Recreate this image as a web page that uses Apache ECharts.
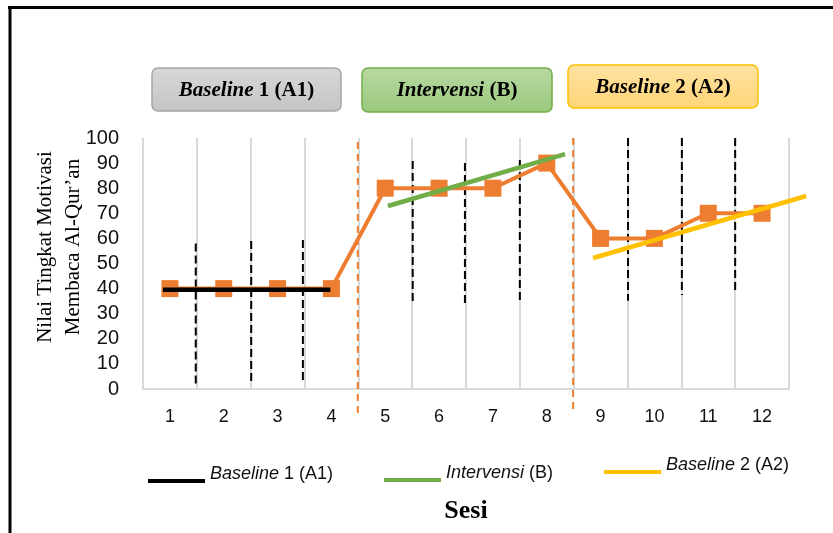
<!DOCTYPE html>
<html>
<head>
<meta charset="utf-8">
<script src="https://cdn.jsdelivr.net/npm/echarts@6/dist/echarts.min.js"></script>
<style>
html,body{margin:0;padding:0;background:#fff;}
#chart{width:833px;height:533px;}
</style>
</head>
<body>
<div id="chart"></div>
<script>
// ---- data ----
const categories = ['1','2','3','4','5','6','7','8','9','10','11','12'];
const scores = [40,40,40,40,80,80,80,90,60,60,70,70];
const yTicks = [0,10,20,30,40,50,60,70,80,90,100];
// trend lines (x in session units, y in score)
const trendA1 = [[0.87,39.5],[3.98,39.5]];
const trendB  = [[5.05,72.9],[8.34,93.6]];
const trendA2 = [[8.86,52.2],[12.82,76.9]];
// phase change lines (orange dashed)
const phaseLines = [
  [[4.49,98.4],[4.49,-9.6]],
  [[8.49,100],[8.49,-8.4]]
];
// range lines (black dashed)
const rangeLines = [
  [[1.48,58.0],[1.48,1.6]],
  [[2.51,59.0],[2.51,2.5]],
  [[3.47,59.4],[3.47,2.9]],
  [[5.51,90.8],[5.51,34.3]],
  [[6.48,90.0],[6.48,33.5]],
  [[7.50,91.2],[7.50,34.7]],
  [[9.51,100],[9.51,35.2]],
  [[10.51,100],[10.51,37.5]],
  [[11.50,100],[11.50,37.8]]
];
const phaseNames = ['Baseline 1 (A1)','Intervensi (B)','Baseline 2 (A2)'];
const yAxisTitle = 'Nilai Tingkat Motivasi\nMembaca Al-Qur\u2019an';
const xAxisTitle = 'Sesi';

// ---- chart ----
const chart = echarts.init(document.getElementById('chart'), null, {renderer:'canvas'});

function richName(name){
  if (name.indexOf('Baseline') === 0) return '{i|Baseline}{n|' + name.slice(8) + '}';
  if (name.indexOf('Intervensi') === 0) return '{i|Intervensi}{n|' + name.slice(10) + '}';
  return name;
}
const serifRich = {
  bi:{fontFamily:'Liberation Serif',fontWeight:'bold',fontStyle:'italic',fontSize:21,color:'#000'},
  b:{fontFamily:'Liberation Serif',fontWeight:'bold',fontSize:21,color:'#000'}
};
function serifName(name){
  if (name.indexOf('Baseline') === 0) return '{bi|Baseline}{b|' + name.slice(8) + '}';
  if (name.indexOf('Intervensi') === 0) return '{bi|Intervensi}{b|' + name.slice(10) + '}';
  return name;
}
const legendRich = {
  i:{fontFamily:'Liberation Sans',fontStyle:'italic',fontSize:18,color:'#111'},
  n:{fontFamily:'Liberation Sans',fontSize:18,color:'#111'}
};
function mkLegend(name, left, top){
  return {
    data:[name], left:left, top:top, icon:'rect', itemWidth:57, itemHeight:4,
    itemGap:0, padding:0, selectedMode:false,
    formatter: richName,
    textStyle:{rich:legendRich, padding:[0,0,14,0]}
  };
}

const boxes = [
  {x:152,y:68,w:189,h:43,c1:'#d8d8d8',c2:'#c4c4c4',stroke:'#a5a5a5'},
  {x:362,y:68,w:190,h:44,c1:'#b8d9a3',c2:'#9bc87c',stroke:'#70ad47'},
  {x:568,y:65,w:190,h:43,c1:'#ffe3a3',c2:'#ffd476',stroke:'#ffc000'}
];
const graphics = [];
boxes.forEach((b,i)=>{
  graphics.push({type:'rect', shape:{x:b.x,y:b.y,width:b.w,height:b.h,r:6},
    style:{fill:new echarts.graphic.LinearGradient(0,0,0,1,[{offset:0,color:b.c1},{offset:1,color:b.c2}]),
      stroke:b.stroke,lineWidth:1.5}, z:10});
  graphics.push({type:'text', x:b.x+b.w/2, y:b.y+b.h/2+1, z:11,
    style:{text:serifName(phaseNames[i]), rich:serifRich, align:'center', verticalAlign:'middle'}});
});
graphics.push({type:'text', x:59, y:247, rotation:Math.PI/2, z:11,
  style:{text:yAxisTitle, fontFamily:'Liberation Serif', fontSize:21, lineHeight:28,
    fill:'#000', align:'center', verticalAlign:'middle'}});
graphics.push({type:'line', shape:{x1:8,y1:7.5,x2:833,y2:7.5}, style:{stroke:'#000',lineWidth:3}, z:20});
graphics.push({type:'line', shape:{x1:10,y1:6,x2:10,y2:533}, style:{stroke:'#000',lineWidth:3}, z:20});

const ov = {xAxisIndex:1, yAxisIndex:1, symbol:'none', clip:false};
const series = [];
rangeLines.forEach(seg=>{
  series.push(Object.assign({type:'line', data:seg, z:1, silent:true,
    lineStyle:{color:'#000',width:2,type:[8,4]}}, ov));
});
phaseLines.forEach(seg=>{
  series.push(Object.assign({type:'line', data:seg, z:1, silent:true,
    lineStyle:{color:'#ED7D31',width:2,type:[7,5]}}, ov));
});
series.push({type:'line', name:'scores', xAxisIndex:0, yAxisIndex:0, data:scores, symbol:'rect', symbolSize:17,
  z:2, itemStyle:{color:'#ED7D31'}, lineStyle:{color:'#ED7D31',width:4}});
series.push(Object.assign({type:'line', name:phaseNames[0], data:trendA1, z:3,
  itemStyle:{color:'#000'}, lineStyle:{color:'#000',width:4.5}}, ov));
series.push(Object.assign({type:'line', name:phaseNames[1], data:trendB, z:3,
  itemStyle:{color:'#70AD47'}, lineStyle:{color:'#70AD47',width:4.5}}, ov));
series.push(Object.assign({type:'line', name:phaseNames[2], data:trendA2, z:3,
  itemStyle:{color:'#FFC000'}, lineStyle:{color:'#FFC000',width:4.5}}, ov));

const plotLeft = 143, plotWidth = 646, plotTop = 138, plotBottom = 144;
const ovMax = 12.9; // overlay axis reaches a bit past the last category
chart.setOption({
  animation:false,
  backgroundColor:'#fff',
  grid:[
    {left:plotLeft,width:plotWidth,top:plotTop,bottom:plotBottom,containLabel:false},
    {left:plotLeft,width:plotWidth*(ovMax-0.5)/12,top:plotTop,bottom:plotBottom,containLabel:false}
  ],
  xAxis:[{
    type:'category', data:categories, boundaryGap:true, gridIndex:0,
    axisLine:{show:true,lineStyle:{color:'#d9d9d9',width:2}},
    axisTick:{show:false},
    splitLine:{show:true,lineStyle:{color:'#d9d9d9',width:2}},
    axisLabel:{fontFamily:'Liberation Sans',fontSize:18,color:'#111',margin:19},
    name:xAxisTitle, nameLocation:'middle', nameGap:109,
    nameTextStyle:{fontFamily:'Liberation Serif',fontWeight:'bold',fontSize:26,color:'#000'}
  },{
    type:'value', min:0.5, max:ovMax, show:false, gridIndex:1
  }],
  yAxis:[{
    type:'value', min:0, max:100, interval:10, gridIndex:0,
    axisLine:{show:false}, axisTick:{show:false}, splitLine:{show:false},
    axisLabel:{fontFamily:'Liberation Sans',fontSize:20,color:'#111',margin:24,
      formatter:v=> yTicks.indexOf(v) >= 0 ? String(v) : ''}
  },{
    type:'value', min:0, max:100, gridIndex:1, show:false
  }],
  legend:[
    mkLegend(phaseNames[0],148,465),
    mkLegend(phaseNames[1],384,464),
    mkLegend(phaseNames[2],604,456)
  ],
  graphic:graphics,
  series:series
});
</script>
</body>
</html>
